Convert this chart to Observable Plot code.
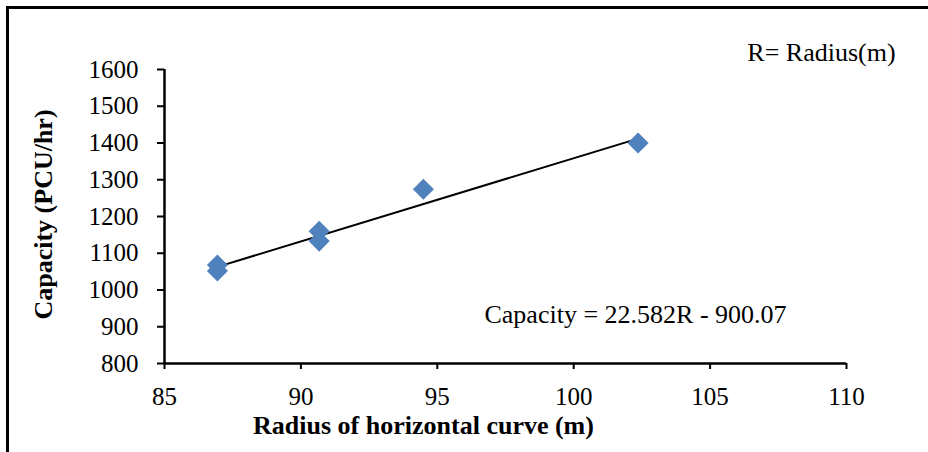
<!DOCTYPE html>
<html>
<head>
<meta charset="utf-8">
<script src="https://cdn.jsdelivr.net/npm/d3@7"></script>
<script src="https://cdn.jsdelivr.net/npm/@observablehq/plot@0.6"></script>
<style>
  html, body { margin: 0; padding: 0; background: #fff; }
  #wrap { position: relative; width: 928px; height: 452px; overflow: hidden; }
  #border { position: absolute; left: 6px; top: 6px; width: 930px; height: 460px;
            border-top: 3px solid #000; border-left: 3px solid #000; pointer-events: none; }
  #wrap svg, #wrap svg text { font-family: "Liberation Serif", serif !important; }
</style>
</head>
<body>
<div id="wrap"><div id="border"></div></div>
<script>
const radius   = [86.94, 86.94, 90.67, 90.67, 94.49, 102.36];
const capacity = [1068, 1052, 1160, 1133, 1274, 1400];

// Fitted trend line endpoints (Capacity = 22.582R - 900.07)
const trendR = [86.94, 102.36];
const trendC = [1063, 1412];

// Axis ticks
const xTicks = [85, 90, 95, 100, 105, 110];
const yTicks = [800, 900, 1000, 1100, 1200, 1300, 1400, 1500, 1600];

// Texts
const xTitle = "Radius of horizontal curve (m)";
const yTitle = "Capacity (PCU/hr)";
const equationText = "Capacity = 22.582R - 900.07";
const legendNote = "R= Radius(m)";

const points = radius.map((r, i) => ({r, c: capacity[i]}));
const trend = trendR.map((r, i) => ({r, c: trendC[i]}));
const serif = "Liberation Serif";

const chart = Plot.plot({
  width: 928,
  height: 452,
  marginLeft: 164,
  marginRight: 82,
  marginTop: 69,
  marginBottom: 89,
  style: {fontFamily: serif, fontSize: "25px", color: "#000", background: "#fff"},
  x: {domain: [xTicks[0], xTicks[xTicks.length - 1]]},
  y: {domain: [yTicks[0], yTicks[yTicks.length - 1]]},
  marks: [
    Plot.axisX(xTicks, {tickSize: 6, tickPadding: 18, strokeWidth: 2, label: null, fontSize: 25, fontFamily: serif, tickFormat: d => String(d)}),
    Plot.axisY(yTicks, {tickSize: 7, tickPadding: 19, strokeWidth: 2, label: null, fontSize: 25, fontFamily: serif, tickFormat: d => String(d)}),
    Plot.ruleY([yTicks[0]], {stroke: "#000", strokeWidth: 2.5}),
    Plot.ruleX([xTicks[0]], {stroke: "#000", strokeWidth: 2.5}),
    Plot.line(trend, {x: "r", y: "c", stroke: "#000", strokeWidth: 2}),
    Plot.dot(points, {x: "r", y: "c", symbol: "diamond2", r: 9.5, fill: "#4F81BD", stroke: "none"}),
    Plot.text([xTitle], {frameAnchor: "bottom", dx: -82, dy: 62, lineAnchor: "middle", textAnchor: "middle", fontSize: 26, fontWeight: "bold", fontFamily: serif, text: d => d}),
    Plot.text([yTitle], {frameAnchor: "left", dx: -121, dy: -2, rotate: -90, lineAnchor: "middle", textAnchor: "middle", fontSize: 26, fontWeight: "bold", fontFamily: serif, text: d => d}),
    Plot.text([equationText], {frameAnchor: "bottom", dx: 130, dy: -49, lineAnchor: "middle", textAnchor: "middle", fontSize: 26, fontFamily: serif, text: d => d}),
    Plot.text([legendNote], {frameAnchor: "top-right", dx: -25, dy: -17, lineAnchor: "middle", textAnchor: "middle", fontSize: 26, fontFamily: serif, text: d => d})
  ]
});
document.getElementById("wrap").prepend(chart);
</script>
</body>
</html>
